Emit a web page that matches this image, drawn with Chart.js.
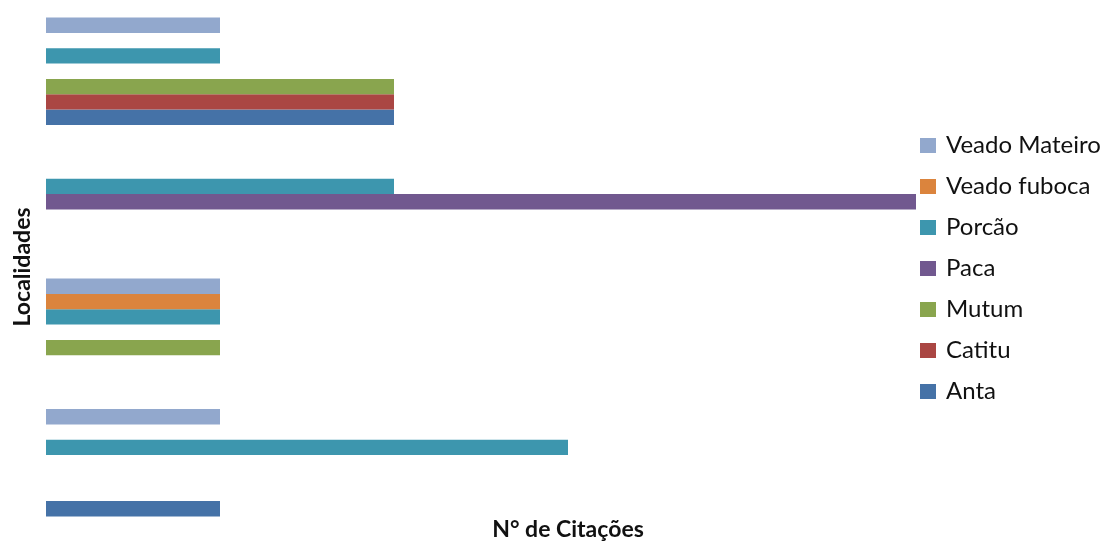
<!DOCTYPE html>
<html>
<head>
<meta charset="utf-8">
<script src="https://cdn.jsdelivr.net/npm/chart.js@4/dist/chart.umd.min.js"></script>
<style>
  html, body { margin: 0; padding: 0; background: #ffffff; }
  canvas { display: block; }
</style>
</head>
<body>
<canvas id="grafico" width="1110" height="544"></canvas>
<script>
// Localidades (eixo vertical, sem rótulos visíveis)
const localidades = ['Localidade 1', 'Localidade 2', 'Localidade 3', 'Localidade 4'];

// Espécies citadas, na ordem em que aparecem na legenda
const especies = ['Veado Mateiro', 'Veado fuboca', 'Porcão', 'Paca', 'Mutum', 'Catitu', 'Anta'];

// Número de citações por localidade
const veadoMateiro = [1, null, 1, 1];
const veadoFuboca  = [null, null, 1, null];
const porcao       = [1, 2, 1, 3];
const paca         = [null, 5, null, null];
const mutum        = [2, null, 1, null];
const catitu       = [2, null, null, null];
const anta         = [2, null, null, 1];

const valores = [veadoMateiro, veadoFuboca, porcao, paca, mutum, catitu, anta];
const cores = ['#92A8CD', '#DB843D', '#3D96AE', '#71588F', '#89A54E', '#AA4643', '#4572A7'];

// Limites do eixo de citações
const eixoMin = 0;
const eixoMax = 6;

const corTexto = '#111111';
const fonteTitulo = { family: 'Lato', size: 23, weight: 'bold', lineHeight: 1.2 };

// Legenda desenhada sobre a área do gráfico, à direita
const legendaLateral = {
  id: 'legendaLateral',
  afterDraw(chart) {
    const ctx = chart.ctx;
    const area = chart.chartArea;
    const x0 = area.right - 170;
    const y0 = 138;
    const passo = 41;
    ctx.save();
    ctx.font = '24px Lato';
    ctx.textBaseline = 'alphabetic';
    ctx.textAlign = 'left';
    chart.data.datasets.forEach((ds, i) => {
      const topo = y0 + i * passo;
      ctx.fillStyle = ds.backgroundColor;
      ctx.fillRect(x0, topo, 16, 15);
      ctx.fillStyle = corTexto;
      ctx.fillText(ds.label, x0 + 26, topo + 15);
    });
    ctx.restore();
  }
};

new Chart(document.getElementById('grafico'), {
  type: 'bar',
  data: {
    labels: localidades,
    datasets: especies.map((nome, i) => ({
      label: nome,
      data: valores[i],
      backgroundColor: cores[i],
      borderWidth: 0,
      categoryPercentage: 0.823,
      barPercentage: 1.0
    }))
  },
  options: {
    indexAxis: 'y',
    responsive: false,
    animation: false,
    devicePixelRatio: 1,
    layout: { padding: { top: 6, right: 20, bottom: 0, left: 0 } },
    plugins: {
      legend: { display: false },
      tooltip: { enabled: false }
    },
    scales: {
      x: {
        min: eixoMin,
        max: eixoMax,
        grid: { display: false, drawTicks: false },
        border: { display: false },
        ticks: { display: false },
        title: {
          display: true,
          text: 'N° de Citações',
          color: corTexto,
          font: fonteTitulo,
          padding: { top: -11.8, bottom: 0.2 }
        }
      },
      y: {
        grid: { display: false, drawTicks: false },
        border: { display: false },
        ticks: { display: false },
        title: {
          display: true,
          text: 'Localidades',
          color: corTexto,
          font: fonteTitulo,
          padding: { top: 9, bottom: 9.4 }
        }
      }
    }
  },
  plugins: [legendaLateral]
});
</script>
</body>
</html>
